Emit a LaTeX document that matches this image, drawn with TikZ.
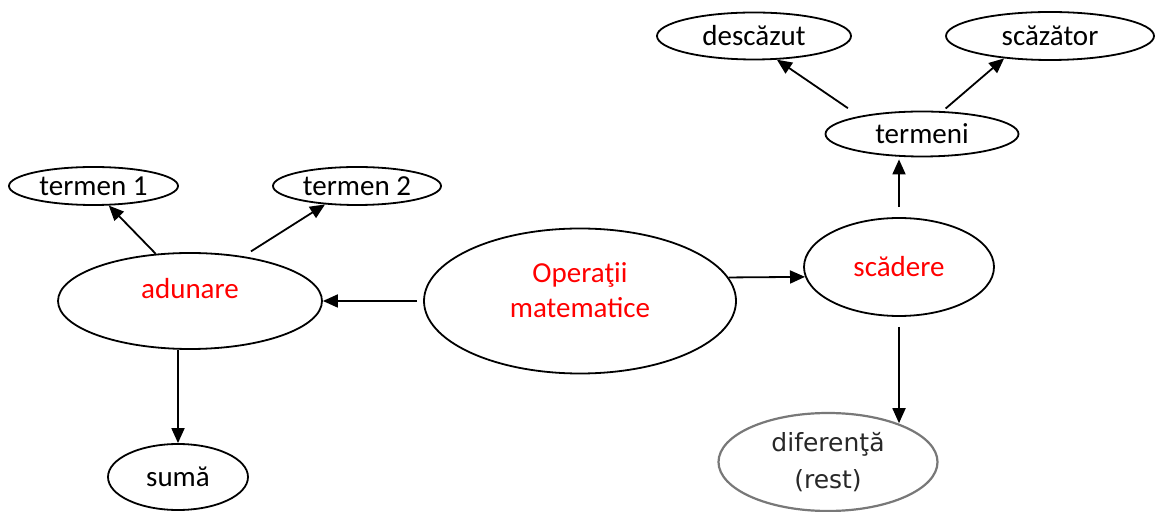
\documentclass[tikz,border=0pt]{standalone}
\usepackage{fontspec}
\setmainfont{Carlito}
\newfontfamily\pixfont{DejaVu Sans}
\usepackage{tikz}
\usetikzlibrary{arrows.meta,positioning,shapes.geometric,calc}
\usepackage{xcolor}
\definecolor{opred}{RGB}{255,0,0}
\definecolor{greyrim}{RGB}{120,120,120}
\definecolor{greytext}{RGB}{40,40,40}
\tikzset{
  bubble/.style={ellipse,draw=black,line width=.9pt,inner sep=0pt,
                 font=\fontsize{14.5}{17.5}\selectfont},
  opbubble/.style={bubble,text=opred},
  greybubble/.style={ellipse,draw=greyrim,line width=1.1pt,inner sep=0pt,
                 text=greytext,align=center,font=\pixfont\fontsize{12.5}{18.5}\selectfont},
  link/.style={-{Triangle[length=7.5pt,width=6.5pt]},draw=black,line width=.9pt},
}

\begin{document}
\begin{tikzpicture}[x=0.5pt,y=-0.5pt]
  \useasboundingbox (0,0) rectangle (1155,512);
  % centre and the two operations
  \node[opbubble,align=center,minimum width=156pt,minimum height=72.5pt,text depth=11pt]
    (oper) at (580,301) {Operaţii\\ matematice};
  \node[opbubble,minimum width=132pt,minimum height=48pt,text depth=13pt]
    (adun) at (190,301) {adunare};
  \node[opbubble,minimum width=95pt,minimum height=49pt]
    (scad) at (899,267) {scădere};
  % parts of the sum
  \node[bubble,minimum width=84.5pt,minimum height=19pt] (terA) at (93.5,186) {termen 1};
  \node[bubble,minimum width=84pt,minimum height=19pt] (terB) at (357,186) {termen 2};
  \node[bubble,minimum width=70pt,minimum height=33pt] (suma) at (178,477) {sumă};
  % parts of the difference
  \node[bubble,minimum width=96.5pt,minimum height=22.5pt] (term) at (922,134) {termeni};
  \node[bubble,minimum width=97pt,minimum height=23.5pt] (desc) at (754,36) {descăzut};
  \node[bubble,minimum width=104pt,minimum height=24pt] (scaz) at (1050,36) {scăzător};
  \node[greybubble,minimum width=109.5pt,minimum height=49pt]
    (dife) at (828,462) {diferenţă\\(rest)};
  % connectors
  \draw[link,shorten <=3pt] (oper.west) -- (adun.east);
  \draw[link] (oper.9) -- (scad.186);
  \draw[link] (adun.126) -- (terA.-52);
  \draw[link,shorten <=4.5pt] (adun.40) -- (terB.-150);
  \draw[link] (adun.south -| suma.north) -- (suma.north);
  \draw[link,shorten <=5pt,shorten >=1pt] (scad.north) -- (scad.north |- term.south);
  \draw[link,shorten <=7pt] (term.164) -- (desc.-46);
  \draw[link,shorten <=2pt] (term.48) -- (scaz.-154);
  \draw[link,shorten <=5pt] (scad.south) -- (scad.south |- dife.29);
\end{tikzpicture}
\end{document}
